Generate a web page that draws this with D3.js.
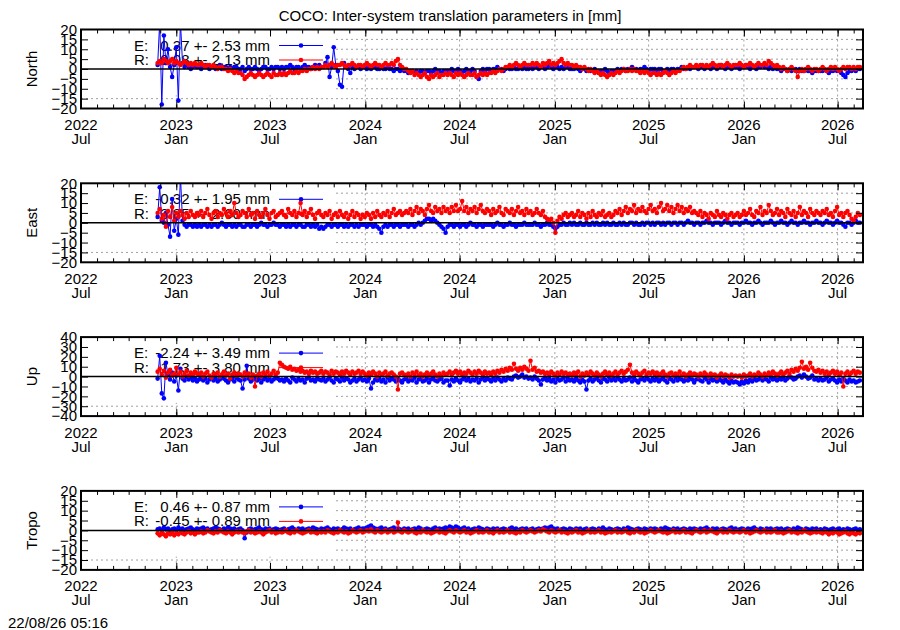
<!DOCTYPE html>
<html lang="en">
<head>
<meta charset="UTF-8" />
<title>COCO: Inter-system translation parameters</title>
<script src="https://d3js.org/d3.v7.min.js"></script>
<style>
  body { margin: 0; background: #fff; }
  svg { display: block; font-family: "Liberation Sans", Arial, sans-serif; }
  .grid line { stroke: #a0a0a0; stroke-width: 1; stroke-dasharray: 2,3; }
  .tick line { stroke: #000; stroke-width: 1; }
</style>
</head>
<body>
<svg id="chart" width="900" height="630"></svg>
<script>
const titleText = "COCO: Inter-system translation parameters in [mm]";
const stampText = "22/08/26 05:16";
const panelNames = ["North", "East", "Up", "Tropo"];
const yRanges = [[-20, 20], [-20, 20], [-40, 40], [-20, 20]];
const yTickSteps = [5, 5, 10, 5];
const legendE = ["0.37 +- 2.53 mm", "-0.32 +- 1.95 mm", "-2.24 +- 3.49 mm", "0.46 +- 0.87 mm"];
const legendR = ["0.08 +- 2.13 mm", "3.85 +- 2.60 mm", "1.73 +- 3.80 mm", "-0.45 +- 0.89 mm"];
const axisStart = "2022-07-01", axisEnd = "2026-08-19";
const firstDay = "2022-11-26", stepDays = 4;

// values in mm, one every 4 days from firstDay
const northE = [
  2, 24, -18, 17, 3, 10, 1, -4, 2, 11, -16, 24, 3, 1, 2, 1, 0, 1, 2, 1,
  1, 0, 1, 2, 1, 0, 1, 1, 0, 1, 2, 0, 1, 1, 0, 1, 0, 1, 1, 0,
  0, 1, -1, 0, 1, 0, 0, 1, 0, -1, 0, 1, 1, 0, 0, 1, 0, 1, 1, 0,
  1, 0, 1, 1, 2, 1, 0, 1, 1, 0, 1, 2, 1, 1, 0, 1, 2, 1, 2, 1,
  1, 3, 6, -4, 1, 11, 2, -1, -8, -9, 3, 1, 0, -2, 1, 0, 1, 1, 0, 1,
  1, 0, 1, 0, 1, 1, 0, 0, 1, 0, 0, 1, 0, 0, -1, 0, 0, -1, 0, -1,
  -1, -2, -1, -1, -2, -1, -2, -1, -1, -2, -1, -1, -2, -1, 0, -1, -1, -2, -1, -1,
  -1, -1, 0, -1, -1, 0, -1, -2, -1, 0, -1, -1, 0, -1, -4, -5, -1, 0, -1, 0,
  0, -1, 0, 0, 1, 0, 0, -1, 0, 1, 0, 0, 1, 0, 0, 1, 0, 1, 0, 0,
  1, 0, 1, 1, 0, 1, 1, 0, 1, 2, 1, 0, 1, 1, 0, 1, 0, 1, 1, 0,
  0, 0, 1, 0, -1, 0, 0, -1, 0, -1, -1, 0, -1, -2, -1, -1, 0, -1, -2, -1,
  -1, -1, 0, -1, 0, 0, -1, 0, 0, 1, 0, 0, -1, 0, 0, 1, 0, -1, 0, 0,
  0, -1, 0, 0, -1, -1, 0, -1, 0, 0, -1, 0, 0, 1, 0, 0, 1, 0, 1, 1,
  1, 0, 1, 1, 0, 1, 1, 0, 1, 1, 0, 1, 2, 1, 0, 1, 1, 0, 1, 1,
  1, 0, 1, 1, 2, 1, 0, 1, 1, 0, 1, 1, 2, 1, 1, 0, 1, 0, 1, 0,
  0, -1, 0, 0, -1, 0, -1, 0, 0, -1, 0, -1, -1, 0, -1, -1, -2, -1, -1, -1,
  -1, -1, 0, -1, -2, -1, -1, 0, -1, -1, -2, -3, -4, -2, -1, -1, 0, -1, 0, 0
];
const northR = [
  3, 4, 3, 5, 4, 3, 4, 5, 3, 4, 3, 2, 3, 4, 3, 2, 3, 2, 3, 2,
  2, 3, 2, 1, 2, 2, 1, 2, 1, 0, 1, 1, 0, 0, -1, 0, -1, -2, -1, -2,
  -2, -3, -5, -4, -3, -2, -3, -4, -3, -2, -3, -4, -3, -2, -3, -4, -2, -3, -3, -2,
  -3, -2, -3, -2, -1, -2, -2, -1, -2, -1, -1, 0, -1, 0, 0, 1, 0, 1, 0, 1,
  1, 2, 1, 2, 3, 2, 1, 2, 2, 3, 2, 1, 2, 2, 3, 2, 1, 2, 2, 1,
  2, 3, 2, 1, 2, 3, 2, 2, 1, 2, 3, 2, 2, 3, 2, 4, 5, 2, 1, 0,
  0, -1, -2, -1, -3, -2, -3, -4, -3, -2, -4, -5, -3, -4, -3, -2, -4, -3, -3, -2,
  -3, -2, -3, -4, -2, -3, -2, -3, -4, -3, -2, -3, -3, -2, -4, -3, -2, -3, -2, -3,
  -2, -2, -1, -2, -1, 0, -1, 0, 1, 1, 2, 1, 2, 3, 2, 1, 2, 3, 2, 2,
  2, 3, 2, 3, 2, 1, 3, 2, 3, 4, 2, 3, 2, 3, 4, 5, 3, 2, 3, 2,
  2, 1, 2, 1, 1, 0, 1, 0, -1, 0, -1, -2, -1, -2, -3, -2, -3, -4, -3, -2,
  -3, -2, -1, -2, -1, 0, -1, -1, 0, -1, 0, -1, -1, -2, -1, -2, -1, -2, -3, -2,
  -2, -3, -2, -3, -2, -1, -2, -3, -2, -1, -2, -1, -1, 0, 1, 0, 1, 2, 1, 1,
  2, 1, 2, 2, 1, 2, 1, 2, 3, 2, 1, 2, 2, 1, 2, 3, 2, 1, 2, 2,
  2, 3, 2, 1, 2, 2, 3, 2, 1, 2, 3, 2, 2, 3, 2, 4, 3, 2, 1, 2,
  1, 0, 1, 0, -1, 0, 1, 0, -1, -4, -1, 0, -1, 0, 1, 0, -1, 0, 0, -1,
  0, 1, 0, -1, 0, 1, 0, 1, 0, -1, 0, 1, 0, 1, 1, 0, 1, 0, 1, 1
];
const eastE = [
  3, 18, 1, 0, 5, -1, -7, 12, -4, 2, -6, 24, 1, -1, -2, -1, -1, -2, -1, -2,
  -1, -2, -1, -1, -2, -1, -2, -1, -1, -2, -1, 0, -1, -2, -1, -1, -2, -1, -2, -1,
  -1, -2, -2, -1, -1, -2, -1, -1, -2, -1, 0, -1, -1, -2, -1, -1, 0, -1, -1, -2,
  -1, -1, -2, -1, -2, -1, -1, -2, -1, -1, -2, -2, -1, -1, -2, -1, -2, -1, -3, -2,
  -3, -2, -1, -1, -2, -1, -1, -2, -1, -1, -2, -1, -2, -1, -1, -2, -1, -2, -1, -1,
  -1, -2, -1, -1, -2, -1, -2, -3, -5, -2, -1, -2, -1, -1, -2, -1, -1, -2, -1, -1,
  -1, -2, -1, -1, -2, -1, 0, -1, 0, 1, 2, 2, 1, 2, 1, 0, -1, -2, -3, -5,
  -2, -1, -1, -2, -1, -1, -2, -1, -1, -2, -1, 0, -1, -1, -2, -1, -1, -2, -1, -1,
  -1, -1, -2, -1, 0, -1, -1, -2, -1, -1, 0, -1, -1, -2, -1, -1, -1, 0, -1, -1,
  -1, -1, 0, -1, -1, -2, -1, -1, 0, -1, -1, -2, -3, -2, -1, -1, 0, -1, -1, 0,
  -1, 0, -1, -1, 0, -1, -1, 0, -1, -1, 0, -1, 0, -1, -1, 0, -1, 0, -1, -1,
  0, -1, -1, 0, -1, 0, -1, -1, 0, 0, -1, 0, -1, -1, 0, -1, 0, 0, -1, 0,
  -1, 0, 0, -1, 0, -1, 0, 0, -1, 0, 0, -1, 0, 0, -1, 0, 1, 0, 0, -1,
  0, 0, -1, 0, 0, 1, 0, 0, -1, 0, 0, 0, -1, 0, 1, 0, 0, -1, 0, 0,
  0, -1, 0, 0, 1, 0, 0, -1, 0, 0, 1, 0, -1, 0, 0, 0, 1, 0, -1, 0,
  0, 1, 0, 0, -1, 0, 1, 0, 0, -1, 0, 0, 1, 0, 0, -1, 0, 0, 1, 0,
  0, -1, 0, 1, 0, 0, -1, 0, 1, 0, 0, -1, -2, 0, 0, -1, 0, 1, 0, 0
];
const eastR = [
  5, 7, 2, 4, -2, 6, 3, 8, 1, 5, 3, 6, 4, 2, 5, 3, 6, 4, 3, 5,
  4, 6, 3, 5, 7, 4, 2, 5, 6, 3, 5, 4, 7, 5, 3, 6, 4, 10, 5, 3,
  4, 6, 5, 3, 7, 4, 5, 2, 6, 4, 3, 5, 7, 4, 2, 5, 6, 3, 4, 5,
  6, 4, 3, 7, 5, 4, 6, 3, 5, 10, 4, 6, 3, 5, 7, 4, 2, 5, 6, 4,
  3, 5, 4, 6, 2, 4, 5, 3, 6, 4, 3, 5, 2, 4, 6, 3, 5, 4, 2, 4,
  3, 5, 4, 2, 5, 3, 6, 4, 3, 5, 4, 6, 3, 5, 7, 4, 5, 6, 4, 5,
  6, 5, 7, 4, 6, 8, 5, 7, 6, 4, 7, 9, 6, 5, 8, 6, 7, 5, 8, 6,
  7, 5, 8, 6, 9, 6, 7, 11, 6, 8, 5, 7, 6, 8, 5, 7, 9, 6, 5, 7,
  6, 4, 7, 5, 6, 8, 5, 4, 7, 6, 5, 7, 4, 6, 8, 5, 6, 4, 7, 5,
  6, 4, 5, 7, 5, 4, 6, 3, 2, 1, 2, 0, -5, 1, 3, 2, 4, 5, 3, 4,
  5, 3, 4, 6, 3, 5, 4, 2, 5, 3, 6, 4, 3, 5, 4, 6, 3, 4, 5, 3,
  4, 6, 5, 7, 4, 6, 8, 5, 7, 6, 9, 5, 7, 6, 8, 6, 5, 7, 9, 6,
  7, 5, 8, 10, 6, 7, 9, 6, 8, 5, 7, 9, 6, 8, 5, 7, 6, 8, 5, 6,
  5, 4, 6, 3, 5, 4, 2, 5, 4, 3, 6, 4, 3, 5, 4, 2, 4, 5, 3, 4,
  5, 3, 4, 6, 4, 5, 7, 4, 3, 6, 5, 8, 4, 6, 5, 9, 6, 4, 5, 7,
  4, 6, 5, 3, 7, 5, 4, 6, 3, 5, 8, 4, 6, 5, 3, 7, 5, 4, 6, 5,
  4, 6, 5, 7, 4, 5, 3, 6, 8, 4, 5, 3, 5, 6, 4, 2, 1, 3, 5, 4
];
const upE = [
  -2, 21, -17, -22, 14, 2, -3, 4, -5, 1, -14, 8, -2, -4, 0, -3, -1, -4, -2, -5,
  -3, -1, -4, -2, -6, -3, -1, -4, -2, -5, -3, 0, -2, -4, -6, -3, -2, -5, -1, -3,
  -4, -12, -3, 11, -2, -5, -3, -1, -4, -2, -6, -3, -1, -4, -2, -5, -3, -1, -2, -4,
  -3, -5, -2, -4, -6, -1, -3, -5, -2, -4, -3, -6, -2, -1, -4, -3, -5, -2, -3, -4,
  -2, -5, -3, -1, -4, -6, -2, -3, -5, -1, -4, -2, -3, -6, -4, -2, -5, -3, -1, -4,
  -3, -5, -2, -12, -6, -3, -4, -2, -5, -3, -6, -1, -4, -2, -3, -5, -2, -4, -6, -3,
  -2, -5, -3, -4, -1, -6, -3, -2, -5, -4, -2, -6, -3, -1, -4, -5, -3, -2, -6, -4,
  -4, -9, -3, -5, -2, -4, -6, -3, -1, -4, -2, -5, -3, -4, -2, -6, -3, -1, -4, -2,
  -3, -5, -2, -4, -1, -3, -5, -2, -4, -1, -2, -3, 0, 1, -1, 0, 2, -1, 0, -2,
  -1, -3, 0, -2, -4, -8, -3, -1, -4, -2, -5, -3, -6, -2, -4, -3, -1, -5, -2, -4,
  -3, -5, -2, -4, -6, -3, -5, -13, -4, -2, -5, -3, -1, -4, -6, -2, -3, -5, -1, -4,
  -2, -4, -1, -3, -5, -2, -4, -3, -1, -5, -2, -4, -6, -3, -2, -4, -1, -3, -5, -2,
  -4, -2, -5, -3, -1, -4, -6, -2, -3, -5, -1, -4, -2, -3, -5, -2, -4, -1, -3, -6,
  -3, -2, -4, -5, -1, -3, -6, -2, -4, -3, -5, -2, -4, -6, -3, -5, -7, -4, -6, -5,
  -6, -8, -5, -7, -4, -6, -3, -5, -2, -4, -3, -1, -4, -2, -3, -5, -1, -3, -2, -4,
  -2, -3, -1, -4, -2, 0, -1, -3, -2, 0, 1, -1, 2, 0, -2, -1, 1, -3, -2, -4,
  -2, -4, -3, -1, -5, -3, -2, -4, -6, -3, -5, -2, -4, -6, -3, -5, -4, -6, -5, -4
];
const upR = [
  5, 8, 2, 6, -1, 4, 7, 1, 3, 9, 2, 5, 0, 3, 6, 1, 4, 2, 5, 3,
  2, 4, 0, 3, 5, 1, -1, 3, 2, 4, 0, 2, 5, 1, 3, -2, 2, 4, 1, 3,
  2, 0, 4, 1, 3, -1, 2, -10, 1, 3, 0, 4, 2, 5, 1, 3, 6, 2, 4, 14,
  12, 10, 9, 8, 10, 7, 8, 6, 7, 5, 6, 4, 5, 3, 6, 4, 5, 3, 4, 6,
  3, 5, 4, 2, 6, 3, 5, 4, 2, 5, 3, 6, 4, 2, 5, 3, 4, 6, 3, 5,
  3, 1, 4, 2, 5, 3, 0, 4, 2, 3, 5, 1, 3, 4, 2, 0, -13, 3, 4, 2,
  1, 3, 0, 4, 2, 5, 1, 3, 0, 2, 4, 1, 3, 5, 2, 0, 3, 1, 4, 2,
  3, 5, 2, 4, 6, 3, 5, 2, 4, 3, 6, 4, 2, 5, 3, 6, 4, 2, 5, 3,
  4, 2, 5, 3, 6, 4, 7, 5, 8, 6, 9, 7, 13, 8, 6, 9, 7, 10, 8, 6,
  16, 7, 9, 5, 6, 4, 5, 3, 4, 2, 5, 3, 1, 4, 2, 5, 3, 4, 2, 3,
  1, 4, 2, 5, 0, 3, 1, 4, 2, 5, 3, 1, 4, 2, 0, 3, 5, 2, 4, 1,
  3, 5, 2, 4, 6, 3, 5, 7, 12, 4, 2, 5, 3, 1, 4, 6, 2, 4, 3, 5,
  2, 4, 1, 3, 5, 2, 0, 3, 4, 1, 3, 2, 5, 1, 3, 0, 2, 4, 1, 3,
  2, 0, 3, 1, 4, 2, 0, 3, 1, 2, -1, 1, 3, 0, 2, 1, -1, 2, 0, 1,
  0, 1, -1, 2, 0, 1, 3, 0, 2, 1, 4, 2, 0, 3, 1, 4, 2, 5, 3, 1,
  3, 5, 2, 4, 6, 3, 7, 5, 8, 6, 9, 15, 8, 10, 7, 14, 9, 6, 5, 7,
  4, 6, 3, 5, 2, 4, 6, 3, 5, 2, 4, -10, 3, 5, 2, 4, 6, 3, 5, 4
];
const tropoE = [
  0.5, 1, 0, 1.5, 0.5, 1, -0.5, 0.5, 1, 0, 1.5, 0.5, 1, 0, 0.5, 1, 1.5, 0.5, 0, 1,
  0.5, 1, 1.5, 0.5, 1, 0, 0.5, 1, 1.5, 1, 0.5, 0, 1, 0.5, 1.5, 1, 0.5, 1, 0, 0.5,
  1, 0, -4, -1, 0.5, 1, 0, 0.5, 1, 1.5, 0.5, 0, 1, 0.5, 1, 0, 0.5, 1, 0.5, 0,
  0.5, 1, 0, 0.5, 1, 1.5, 0.5, 0, 1, 0.5, 1, 0, 0.5, 1, 0.5, 1.5, 1, 0.5, 0, 1,
  0.5, 1, 1.5, 0.5, 0, 1, 0.5, 1, 0, 0.5, 1.5, 1, 0.5, 1, 0, 0.5, 1, 1.5, 0.5, 1,
  1, 1.5, 2, 2.5, 1.5, 1, 0.5, 1, 1.5, 0.5, 1, 0, 0.5, 1, 1.5, 0.5, 1, 0.5, 0, 1,
  0.5, 1, 0, 0.5, 1, 0.5, 1.5, 1, 0, 0.5, 1, 0.5, 0, 1, 1.5, 0.5, 1, 0.5, 1, 1.5,
  1, 2, 1.5, 1, 2, 1.5, 0.5, 1, 1.5, 0.5, 1, 0, 0.5, 1, 0.5, 1.5, 1, 0.5, 0, 1,
  0.5, 0, 1, 0.5, 1, 0, 0.5, 1, 0.5, 0, 1, 1.5, 0.5, 1, 0, 0.5, 1, 0.5, 1, 0,
  0.5, 1, 0, 0.5, 1, 0.5, 1, 1.5, 1, 1.5, 2, 1, 0.5, 1, 0, 0.5, 1, 0.5, 0, 1,
  0.5, 0, 1, 0.5, 1, 0, 0.5, 1, 0, 0.5, 1, 0.5, 0, 1, 0.5, 1.5, 0.5, 0, 1, 0.5,
  0, 0.5, 1, 0.5, 0, 1, 0.5, 1.5, 1, 0.5, 0, 0.5, 1, 0.5, 0, 1, 0.5, 0, 1, 0.5,
  1, 0.5, 0, 1, 0.5, 1.5, 1, 0.5, 0, 1, 0.5, 1, 0, 0.5, 1, 0.5, 0, 1, 0.5, 1,
  0.5, 0, 1, 0.5, 1, 1.5, 0.5, 0, 1, 0.5, 1, 0, 0.5, 1, 0.5, 0, 1, 1.5, 0.5, 1,
  0, 0.5, 1, 0.5, 0, 1, 0.5, 1, 1.5, 0.5, 0, 1, 0.5, 0, 1, 0.5, 1, 0, 0.5, 1,
  0.5, 1, 0, 0.5, 1, 0.5, 0, 1, 0.5, 1.5, 1, 0.5, 0, 1, 0.5, 0, 1, 0.5, 1, 0,
  0.5, 0, 1, 0.5, 0, 0.5, 1, 0, 0.5, 1, 0, 0.5, 0, 1, 0.5, 0, 0.5, 1, 0, 0.5
];
const tropoR = [
  -1.5, -2.5, -1, -2, -3, -1.5, -2, -1, -2.5, -1.5, -2, -1, -1.5, -2, -1, -0.5, -1.5, -1, -2, -1,
  -1, -0.5, -1.5, -1, 0, -0.5, -1, -1.5, -0.5, -1, 0, -0.5, -1, -1.5, -0.5, -1, -2, -1, -0.5, -1,
  -0.5, -1, -1.5, -0.5, 0, -1, -0.5, -1.5, -1, -0.5, -1, -2, -1, -0.5, 0, -1, -0.5, -1.5, -1, -0.5,
  -1, -0.5, 0, -1, -1.5, -0.5, -1, 0, -0.5, -1, -1.5, -1, -0.5, 0, -1, -0.5, -1, -1.5, -0.5, -1,
  -0.5, -1, 0, -0.5, -1, -1.5, -0.5, -1, 0, -0.5, -1, -0.5, -1.5, -1, 0, -0.5, -1, -0.5, 0, -1,
  -0.5, 0, -0.5, 0.5, -0.5, -1, 0, -0.5, -1, -0.5, 0, -1, -0.5, 0, -1, -0.5, 4, -0.5, -1, 0,
  -0.5, -1, -0.5, 0, -1, -1.5, -0.5, -1, 0, -0.5, -1, -0.5, -1.5, -1, -0.5, 0, -1, -0.5, -1, -1.5,
  -0.5, 0, -0.5, -1, 0, -0.5, -1, -0.5, 0, -1, -0.5, -1.5, -1, -0.5, 0, -1, -0.5, -1, -0.5, 0,
  -1, -0.5, -1.5, -0.5, 0, -1, -0.5, -1, -0.5, 0, -1, -0.5, -1, -1.5, -0.5, -1, 0, -0.5, -1, -0.5,
  0, -0.5, -1, -0.5, 0, -0.5, 0.5, 0, -0.5, -1, 0, -0.5, -1, -0.5, 0, -1, -0.5, -1, -1.5, -0.5,
  -1, -0.5, 0, -1, -0.5, -1.5, -1, -0.5, 0, -1, -0.5, -1, -0.5, 0, -1, -0.5, -1.5, -1, -0.5, -1,
  -0.5, 0, -1, -0.5, -1, -0.5, 0, -1, -1.5, -0.5, -1, 0, -0.5, -1, -0.5, -1.5, -1, -0.5, 0, -0.5,
  -1, -0.5, 0, -0.5, -1, -0.5, -1.5, -1, -0.5, 0, -1, -0.5, -1, -0.5, 0, -1, -0.5, -1, -1.5, -0.5,
  0, -0.5, -1, -0.5, 0, -1, -0.5, 0, -0.5, -1, -1.5, -0.5, 0, -1, -0.5, -1, 0, -0.5, -1, -0.5,
  -0.5, -1, -0.5, 0, -1, -0.5, -1.5, -1, -0.5, 0, -0.5, -1, -0.5, 0, -1, -0.5, -1, -0.5, 0, -1,
  -1, -0.5, -1.5, -1, -0.5, 0, -1, -0.5, -1, -1.5, -0.5, -1, 0, -0.5, -1, -1.5, -1, -0.5, -1, -0.5,
  -1, -1.5, -0.5, -1, -2, -1, -1.5, -0.5, -1, -2, -1.5, -1, -0.5, -1.5, -2, -1, -1.5, -2, -1, -1.5
];
const seriesE = [northE, eastE, upE, tropoE];
const seriesR = [northR, eastR, upR, tropoR];

const svg = d3.select("#chart");
const left = 81, right = 863, panelH = 79;
const panelTops = [29.5, 183.3, 337.1, 490.9];
const blue = "#0000ff", red = "#ff0000";
const fontSize = "15px";

const parse = d3.utcParse("%Y-%m-%d");
const x = d3.scaleUtc().domain([parse(axisStart), parse(axisEnd)]).range([left, right]);
const majorTicks = d3.utcMonth.every(6).range(x.domain()[0], x.domain()[1]);
const minorTicks = d3.utcMonth.range(x.domain()[0], x.domain()[1]);
const dates = northE.map((_, i) => d3.utcDay.offset(parse(firstDay), i * stepDays));
const fmtYear = d3.utcFormat("%Y"), fmtMonth = d3.utcFormat("%b");

svg.append("text")
  .attr("x", 450).attr("y", 20.5)
  .attr("text-anchor", "middle")
  .style("font-size", fontSize)
  .text(titleText);

svg.append("text")
  .attr("x", 8).attr("y", 627.5)
  .style("font-size", fontSize)
  .text(stampText);

panelNames.forEach((name, k) => {
  const top = panelTops[k], bottom = top + panelH;
  const [lo, hi] = yRanges[k];
  const y = d3.scaleLinear().domain([lo, hi]).range([bottom, top]);
  const yTicks = d3.range(lo, hi + 0.001, yTickSteps[k]);
  const g = svg.append("g");

  // grid
  const grid = g.append("g").attr("class", "grid");
  grid.selectAll(".gy").data(yTicks.filter(v => v > lo && v < hi && v !== 0)).enter()
    .append("line")
    .attr("x1", left).attr("x2", right)
    .attr("y1", d => y(d)).attr("y2", d => y(d));
  grid.selectAll(".gx").data(majorTicks.filter(d => x(d) > left + 1)).enter()
    .append("line")
    .attr("x1", d => x(d)).attr("x2", d => x(d))
    .attr("y1", top).attr("y2", bottom);

  // opaque key box
  g.append("rect")
    .attr("x", left + 1).attr("y", top + 1)
    .attr("width", 251).attr("height", panelH * 0.82)
    .attr("fill", "#fff");

  // key
  const keyRows = [[ "E:", legendE[k], blue, 21, 16 ], [ "R:", legendR[k], red, 35.5, 30.5 ]];
  keyRows.forEach(([lab, val, col, base, ly]) => {
    g.append("text").attr("x", 134).attr("y", top + base).style("font-size", fontSize).text(lab);
    g.append("text").attr("x", 270).attr("y", top + base).attr("text-anchor", "end")
      .style("font-size", fontSize).text(val);
    g.append("line").attr("x1", 279).attr("x2", 323).attr("y1", top + ly).attr("y2", top + ly)
      .attr("stroke", col).attr("stroke-width", 1);
    g.append("circle").attr("cx", 301).attr("cy", top + ly).attr("r", 2.3).attr("fill", col);
  });

  // data
  const clipId = "clip" + k;
  svg.append("clipPath").attr("id", clipId)
    .append("rect").attr("x", left).attr("y", top).attr("width", right - left).attr("height", panelH);
  const plot = g.append("g").attr("clip-path", `url(#${clipId})`);
  [[seriesE[k], blue], [seriesR[k], red]].forEach(([vals, col]) => {
    const pts = vals.map((v, i) => [dates[i], v]);
    plot.append("path")
      .datum(pts)
      .attr("fill", "none")
      .attr("stroke", col)
      .attr("stroke-width", 1)
      .attr("d", d3.line().x(d => x(d[0])).y(d => y(d[1])));
    plot.selectAll(null).data(pts).enter()
      .append("circle")
      .attr("cx", d => x(d[0])).attr("cy", d => y(d[1]))
      .attr("r", 2.3).attr("fill", col);
  });

  // zero line
  g.append("line")
    .attr("x1", left).attr("x2", right)
    .attr("y1", y(0)).attr("y2", y(0))
    .attr("stroke", "#000").attr("stroke-width", 1.5);

  // axes: ticks point inward
  const axes = [
    [d3.axisBottom(x).tickValues(majorTicks).tickSize(-7), bottom],
    [d3.axisBottom(x).tickValues(minorTicks).tickSize(-4), bottom],
    [d3.axisTop(x).tickValues(majorTicks).tickSize(-7), top],
    [d3.axisTop(x).tickValues(minorTicks).tickSize(-4), top]
  ];
  axes.forEach(([ax, yy]) => {
    const a = g.append("g").attr("transform", `translate(0,${yy})`).call(ax.tickFormat(""));
    a.select(".domain").remove();
  });
  const yl = g.append("g").attr("transform", `translate(${left},0)`)
    .call(d3.axisLeft(y).tickValues(yTicks).tickSize(-7).tickPadding(4).tickFormat(d3.format("d")));
  yl.select(".domain").remove();
  yl.selectAll("text").style("font-size", fontSize).attr("fill", "#000").style("font-family", "inherit");
  yl.selectAll(".tick").filter(d => d === lo || d === hi).select("line").remove();
  const yr = g.append("g").attr("transform", `translate(${right},0)`)
    .call(d3.axisRight(y).tickValues(yTicks.filter(v => v > lo && v < hi)).tickSize(-7).tickFormat(""));
  yr.select(".domain").remove();

  // x labels, two lines
  const xl = g.append("g");
  xl.selectAll("text").data(majorTicks).enter()
    .append("text")
    .attr("text-anchor", "middle")
    .style("font-size", fontSize)
    .each(function (d) {
      const t = d3.select(this);
      t.append("tspan").attr("x", x(d)).attr("y", bottom + 21.5).text(fmtYear(d));
      t.append("tspan").attr("x", x(d)).attr("y", bottom + 35.5).text(fmtMonth(d));
    });

  // y label
  g.append("text")
    .attr("transform", `translate(36.5,${top + panelH / 2}) rotate(-90)`)
    .attr("text-anchor", "middle")
    .style("font-size", fontSize)
    .text(name);

  // border
  g.append("rect")
    .attr("x", left).attr("y", top)
    .attr("width", right - left).attr("height", panelH)
    .attr("fill", "none").attr("stroke", "#000").attr("stroke-width", 2);
});
</script>
</body>
</html>
